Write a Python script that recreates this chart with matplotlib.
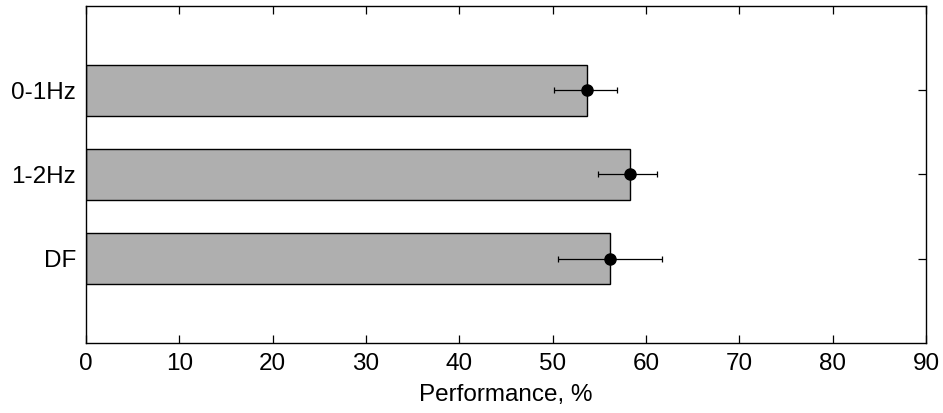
import matplotlib
matplotlib.use("Agg")
import matplotlib.pyplot as plt
import numpy as np

plt.rcParams['font.family'] = ['Liberation Sans', 'DejaVu Sans']

# data
categories = ["0-1Hz", "1-2Hz", "DF"]
performance = [53.7, 58.3, 56.1]
err_low = [3.6, 3.4, 5.5]
err_high = [3.2, 2.9, 5.6]

pos = np.arange(len(categories), 0, -1)  # top to bottom: 3, 2, 1

fig = plt.figure(figsize=(9.43, 4.13), dpi=100)
ax = fig.add_axes([0.0912, 0.1695, 0.8908, 0.816])

ax.barh(pos, performance, height=0.6, color="#afafaf", edgecolor="black",
        linewidth=1.0, zorder=2)
ax.errorbar(performance, pos, xerr=[err_low, err_high], fmt="o", color="black",
            markersize=8, elinewidth=0.9, capsize=2, capthick=0.9, zorder=3)

ax.set_xlim(0, 90)
ax.set_ylim(0, 4)
ax.set_xticks(np.arange(0, 91, 10))
ax.set_yticks(pos)
ax.set_yticklabels(categories)
ax.tick_params(direction="in", top=True, right=True, length=6, width=0.9,
               labelsize=17.5, pad=7)
ax.set_xlabel("Performance, %", fontsize=17.5, labelpad=7)
for s in ax.spines.values():
    s.set_linewidth(1.0)

fig.savefig("out.png", dpi=100)
